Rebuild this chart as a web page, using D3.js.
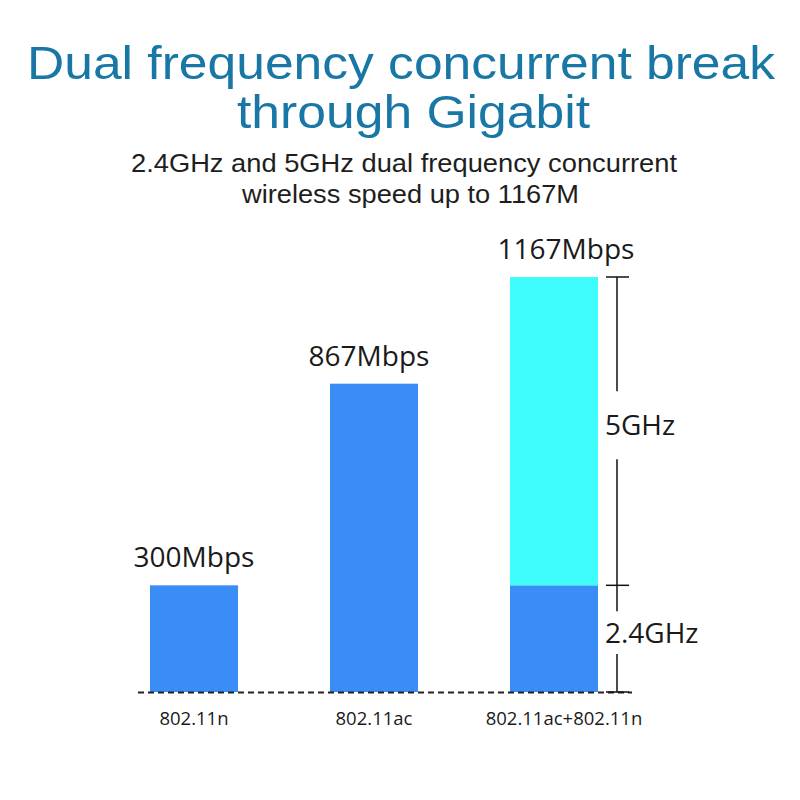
<!DOCTYPE html>
<html>
<head>
<meta charset="utf-8">
<script src="https://cdn.jsdelivr.net/npm/d3@7"></script>
<style>
  html, body { margin: 0; padding: 0; background: #ffffff; }
  svg { display: block; }
</style>
</head>
<body>
<svg id="chart" width="800" height="800"></svg>
<script>
// ---- data ----
const titleLines = ["Dual frequency concurrent break", "through Gigabit"];
const subtitleLines = ["2.4GHz and 5GHz dual frequency concurrent", "wireless speed up to 1167M"];
const categories = ["802.11n", "802.11ac", "802.11ac+802.11n"];
const band24 = [300, 0, 300];      // 2.4GHz part (Mbps)
const band5 = [0, 867, 867];       // 5GHz part (Mbps)
const totalLabels = ["300Mbps", "867Mbps", "1167Mbps"];
const bracketLabels = ["2.4GHz", "5GHz"];

const svg = d3.select("#chart");

// ---- titles ----
const titleColor = "#1977a6";
const tFont = "'Liberation Sans', Arial, sans-serif";
const titleGeo = [{x: 27, y: 79, len: 748}, {x: 237, y: 128, len: 353}];
svg.selectAll("text.title").data(titleLines).join("text")
  .attr("class", "title")
  .attr("x", (d, i) => titleGeo[i].x)
  .attr("y", (d, i) => titleGeo[i].y)
  .attr("textLength", (d, i) => titleGeo[i].len)
  .attr("lengthAdjust", "spacingAndGlyphs")
  .attr("font-family", tFont)
  .attr("font-size", 46)
  .attr("fill", titleColor)
  .text(d => d);

const subGeo = [{x: 131, y: 172, len: 546}, {x: 242, y: 203, len: 337}];
svg.selectAll("text.sub").data(subtitleLines).join("text")
  .attr("class", "sub")
  .attr("x", (d, i) => subGeo[i].x)
  .attr("y", (d, i) => subGeo[i].y)
  .attr("textLength", (d, i) => subGeo[i].len)
  .attr("lengthAdjust", "spacingAndGlyphs")
  .attr("font-family", tFont)
  .attr("font-size", 26)
  .attr("fill", "#1e1e1e")
  .text(d => d);

// ---- scales ----
const x = d3.scaleBand()
  .domain(categories)
  .range([104, 644])
  .paddingInner(0.511)
  .paddingOuter(0.2556);

const total = categories.map((c, i) => band24[i] + band5[i]);
const y = d3.scaleLinear()
  .domain([0, d3.max(total)])
  .range([692, 277]);

const blue = "#3a8cf6";
const cyan = "#3ffcfc";
const lFont = "'Open Sans', 'Noto Sans', sans-serif";

const rows = categories.map((c, i) => ({cat: c, b24: band24[i], b5: band5[i], total: total[i], label: totalLabels[i]}));

const stackRects = [];
rows.forEach(r => {
  if (r.b24 > 0 && r.b5 > 0) {
    stackRects.push({cat: r.cat, y0: 0, y1: r.b24, color: blue});
    stackRects.push({cat: r.cat, y0: r.b24, y1: r.b24 + r.b5, color: cyan});
  } else {
    stackRects.push({cat: r.cat, y0: 0, y1: r.total, color: blue});
  }
});

svg.append("g").selectAll("rect").data(stackRects).join("rect")
  .attr("x", d => x(d.cat))
  .attr("width", x.bandwidth())
  .attr("y", d => y(d.y1))
  .attr("height", d => y(d.y0) - y(d.y1))
  .attr("fill", d => d.color);

// baseline dashed
svg.append("line")
  .attr("x1", x(categories[0]) - 12)
  .attr("x2", x(categories[2]) + x.bandwidth() + 34)
  .attr("y1", y(0) + 0.5)
  .attr("y2", y(0) + 0.5)
  .attr("stroke", "#222")
  .attr("stroke-width", 2)
  .attr("stroke-dasharray", "6,4");

// value labels
svg.append("g").selectAll("text").data(rows).join("text")
  .attr("x", (d, i) => x(d.cat) + x.bandwidth() / 2 + (i === 2 ? 12 : (i === 1 ? -5 : 0)))
  .attr("y", d => y(d.total) - 18)
  .attr("text-anchor", "middle")
  .attr("font-family", lFont)
  .attr("font-size", 28)
  .attr("fill", "#1a1a1a")
  .text(d => d.label);

// category labels
svg.append("g").selectAll("text").data(categories).join("text")
  .attr("x", (d, i) => x(d) + x.bandwidth() / 2 + (i === 2 ? 10 : 0))
  .attr("y", 725)
  .attr("text-anchor", "middle")
  .attr("font-family", lFont)
  .attr("font-size", 18.5)
  .attr("fill", "#1a1a1a")
  .text(d => d);

// bracket on stacked bar
const last = rows[2];
const bx = x(last.cat) + x.bandwidth() + 19;
const segs = [
  {label: bracketLabels[0], top: y(last.b24), bot: y(0)},
  {label: bracketLabels[1], top: y(last.total), bot: y(last.b24)}
];
const br = svg.append("g").attr("stroke", "#111").attr("stroke-width", 1.5);
[y(0), y(last.b24), y(last.total)].forEach(v => {
  br.append("line").attr("x1", bx - 11).attr("x2", bx + 12).attr("y1", v).attr("y2", v);
});
segs.forEach(s => {
  const h = s.bot - s.top;
  const c = (s.top + s.bot) / 2 - 6;
  const half = Math.min(34, h * 0.2);
  br.append("line").attr("x1", bx).attr("x2", bx).attr("y1", s.top).attr("y2", c - half);
  br.append("line").attr("x1", bx).attr("x2", bx).attr("y1", c + half).attr("y2", s.bot);
  svg.append("text")
    .attr("x", bx - 12)
    .attr("y", c + 10)
    .attr("font-family", lFont)
    .attr("font-size", 28)
    .attr("fill", "#1a1a1a")
    .text(s.label);
});
</script>
</body>
</html>
